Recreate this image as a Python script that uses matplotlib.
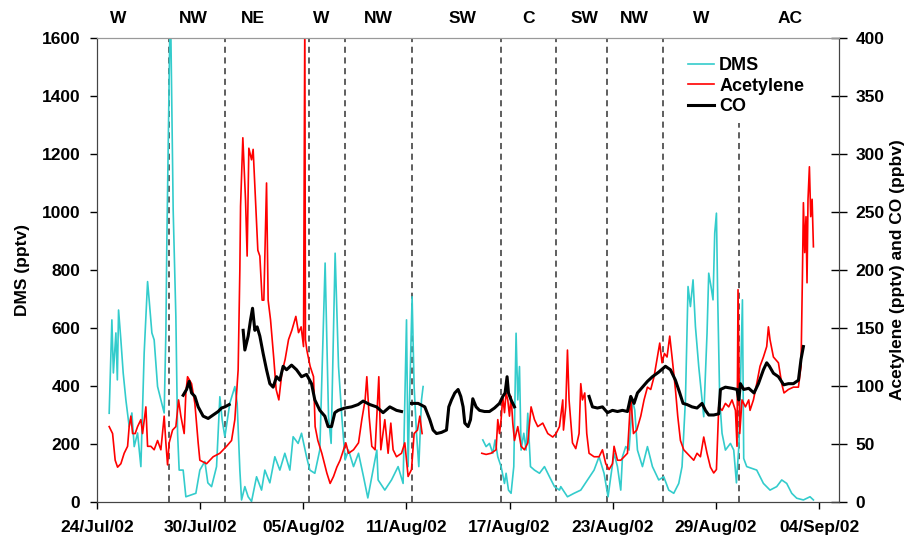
import numpy as np
import matplotlib
matplotlib.use("Agg")
import matplotlib.pyplot as plt
import matplotlib.transforms as mtransforms

plt.rcParams['font.family'] = ['Liberation Sans', 'DejaVu Sans']
plt.rcParams['font.weight'] = 'bold'

nan = np.nan

# --- data: days since 24/Jul/02 00:00 ---
dms_day = [0.715, 0.872, 0.959, 1.105, 1.19, 1.26, 1.395, 1.53, 1.686, 1.878, 2.035, 2.17, 2.366, 2.558,
           2.75, 2.849, 2.948, 3.04, 3.198, 3.331, 3.529, 3.721, 3.913, 4.012, 4.07, 4.145, 4.273, 4.33,
           4.436, 4.593, 4.692, 4.785, 5.017, 5.174, 5.465, 5.756, 5.988, 6.279, 6.453, 6.669, 6.959,
           7.151, 7.285, 7.442, 7.733, 8.023, 8.157, 8.314, 8.413, 8.605, 8.797, 8.994, 9.285, 9.576,
           9.767, 10.058, 10.349, 10.64, 10.93, 11.221, 11.413, 11.703, 11.901, 12.192, 12.384, 12.674,
           12.965, 13.273, 13.471, 13.622, 13.855, 14.052, 14.244, 14.436, 14.634, 14.924, 15.215,
           15.506, 15.756, 15.988, 16.279, 16.355, 16.744, 17.134, 17.517, 17.808, 18.006, 18.099,
           18.198, 18.331, 18.448, 18.587, 18.721, 18.878, 18.971, 20.5,
           22.442, 22.634, 22.831, 23.023, 23.157, 23.314, 23.506, 23.703, 23.797, 23.936, 24.087,
           24.244, 24.378, 24.477, 24.576, 24.669, 24.826, 24.96, 25.058, 25.215, 25.448, 25.738,
           26.029, 26.32, 26.61, 26.901, 26.977, 27.366, 27.75, 28.14, 28.529, 28.913, 29.203, 29.494,
           29.727, 29.884, 30.076, 30.273, 30.465, 30.564, 30.756, 30.948, 31.145, 31.279, 31.436,
           31.727, 32.017, 32.308, 32.674, 32.965, 33.256, 33.547, 33.837, 34.029, 34.227, 34.378,
           34.517, 34.669, 34.808, 35.0, 35.192, 35.291, 35.483, 35.581, 35.715, 35.831, 35.93, 36.029,
           36.105, 36.221, 36.355, 36.552, 36.843, 37.035, 37.192, 37.343, 37.541, 37.616, 37.791,
           38.372, 38.762, 39.145, 39.535, 39.826, 40.116, 40.407, 40.698, 41.087, 41.471, 41.669]
dms_val = [306, 628, 445, 583, 421, 662, 559, 445, 352, 260, 307, 191, 238, 122,
           514, 639, 760, 697, 583, 559, 398, 352, 307, 583, 904, 1226, 1750, 1480,
           1008, 639, 238, 110, 110, 18, 24, 30, 110, 140, 66, 53, 122,
           363, 283, 225, 341, 398, 341, 110, 7, 53, 18, 2, 87, 41,
           110, 66, 156, 110, 168, 110, 225, 202, 237, 156, 110, 99,
           180, 824, 294, 202, 858, 467, 294, 145, 179, 122, 168,
           87, 14, 87, 179, 76, 41, 76, 122, 64, 628, 122,
           386, 708, 398, 237, 122, 352, 398, nan,
           214, 191, 202, 168, 214, 156, 122, 64, 99, 41, 30,
           122, 582, 352, 467, 179, 237, 179, 306, 122, 110, 99,
           122, 87, 53, 41, 53, 18, 30, 41, 76, 110, 156, 99,
           18, 87, 168, 122, 41, 156, 191, 179, 352, 317, 179,
           122, 191, 122, 76, 87, 41, 30, 64, 122, 352, 743,
           674, 766, 605, 467, 352, 294, 582, 789, 743, 697, 927, 996,
           697, 352, 237, 179, 202, 179, 66, 202, 697, 150, 122,
           110, 64, 41, 53, 76, 64, 30, 13, 7, 18, 7]

acet_day = [0.715, 0.913, 1.064, 1.203, 1.395, 1.587, 1.785, 1.878, 1.977, 2.076, 2.227, 2.366, 2.558,
            2.657, 2.849, 2.948, 3.14, 3.331, 3.529, 3.721, 3.913, 4.012, 4.11, 4.203, 4.401, 4.593,
            4.75, 4.884, 5.076, 5.174, 5.273, 5.506, 5.698, 5.89, 5.988, 6.378, 6.762, 7.151, 7.541,
            7.831, 8.023, 8.215, 8.314, 8.355, 8.488, 8.645, 8.738, 8.837, 8.994, 9.087, 9.227, 9.36,
            9.477, 9.61, 9.709, 9.866, 9.959, 10.099, 10.291, 10.424, 10.581, 10.756, 10.948, 11.145,
            11.337, 11.57, 11.727, 11.878, 12.017, 12.093, 12.128, 12.209, 12.401, 12.599, 12.692,
            12.849, 13.081, 13.372, 13.564, 13.762, 13.953, 14.145, 14.343, 14.477, 14.634, 14.924,
            15.215, 15.407, 15.599, 15.698, 15.831, 15.988, 16.18, 16.395, 16.512, 16.744, 16.936,
            17.093, 17.227, 17.424, 17.715, 17.907, 18.099, 18.297, 18.448, 18.645, 18.779, 18.913, 20.5,
            22.384, 22.634, 22.924, 23.215, 23.314, 23.413, 23.506, 23.605, 23.703, 23.797, 23.895,
            23.994, 24.087, 24.186, 24.285, 24.378, 24.477, 24.576, 24.669, 24.866, 25.058, 25.25,
            25.448, 25.64, 25.93, 26.221, 26.512, 26.703, 26.901, 27.093, 27.134, 27.267, 27.366,
            27.459, 27.657, 27.849, 28.041, 28.14, 28.238, 28.372, 28.488, 28.622, 28.913, 29.203,
            29.401, 29.593, 29.785, 29.983, 30.076, 30.273, 30.465, 30.657, 30.855, 31.047, 31.203,
            31.395, 31.628, 31.82, 32.017, 32.209, 32.401, 32.576, 32.733, 32.866, 33.006, 33.157,
            33.314, 33.448, 33.645, 33.779, 33.936, 34.128, 34.32, 34.517, 34.709, 34.901, 35.099,
            35.291, 35.483, 35.68, 35.872, 36.029, 36.163, 36.355, 36.552, 36.744, 36.936, 37.134,
            37.227, 37.285, 37.384, 37.517, 37.715, 37.907, 37.983, 38.18, 38.372, 38.564, 38.762,
            38.953, 39.052, 39.145, 39.343, 39.634, 39.826, 39.959, 40.215, 40.506, 40.797, 40.948,
            41.029, 41.087, 41.163, 41.238, 41.297, 41.355, 41.436, 41.512, 41.593, 41.669]
acet_val = [65, 59, 36, 30, 33, 42, 48, 65, 74, 59, 59, 65, 71,
            59, 82, 48, 48, 45, 53, 45, 74, 51, 32, 51, 62, 65,
            88, 74, 59, 94, 108, 102, 85, 51, 36, 33, 39, 42, 48,
            53, 71, 114, 200, 255, 314, 260, 212, 305, 295, 304, 260, 217,
            212, 174, 174, 275, 174, 157, 123, 97, 88, 111, 123, 140,
            148, 160, 146, 151, 134, 420, 140, 131, 117, 108, 65,
            53, 42, 25, 16, 22, 30, 36, 45, 51, 42, 45,
            51, 71, 88, 108, 74, 48, 45, 108, 45, 71, 42,
            68, 45, 39, 42, 51, 22, 28, 59, 62, 74, 59, nan,
            42, 41, 42, 45, 71, 59, 71, 91, 77, 94, 88,
            74, 91, 68, 53, 59, 65, 56, 48, 45, 51, 82,
            71, 65, 68, 59, 56, 59, 65, 88, 62, 82, 131,
            88, 51, 46, 59, 102, 88, 94, 59, 42, 39, 39,
            45, 33, 28, 33, 48, 36, 36, 39, 42, 91, 59,
            62, 74, 88, 99, 97, 108, 123, 137, 120, 128, 125,
            143, 125, 97, 74, 53, 45, 42, 39, 36, 42, 39,
            56, 42, 30, 25, 28, 82, 79, 85, 82, 88, 79,
            48, 183, 59, 88, 82, 88, 79, 88, 102, 117, 125,
            134, 151, 140, 125, 120, 102, 94, 97, 99, 99, 117,
            194, 258, 215, 246, 189, 261, 289, 246, 261, 220]

co_day = [5.017, 5.215, 5.366, 5.506, 5.698, 5.89, 6.18, 6.471, 6.762, 7.052, 7.25, 7.442, 7.692, 8.1,
          8.506, 8.605, 8.797, 8.936, 9.052, 9.186, 9.32, 9.477, 9.669, 9.866, 10.058, 10.25, 10.448,
          10.64, 10.831, 11.029, 11.32, 11.61, 11.901, 12.192, 12.483, 12.674, 12.965, 13.256, 13.448,
          13.645, 13.837, 14.029, 14.419, 14.808, 15.192, 15.483, 15.872, 16.262, 16.645, 17.035,
          17.424, 17.715, 18.0,
          18.297, 18.68, 19.07, 19.36, 19.552, 19.75, 20.04, 20.331, 20.465, 20.622, 20.814, 21.006,
          21.163, 21.297, 21.395, 21.587, 21.727, 21.86, 22.052, 22.25, 22.541, 22.831, 23.122,
          23.413, 23.605, 23.738, 23.855, 23.936, 24.087, 24.285, 26.0,
          28.622, 28.82, 29.11, 29.401, 29.692, 29.983, 30.273, 30.564, 30.855, 31.047, 31.238,
          31.436, 31.727, 32.017, 32.308, 32.674, 33.064, 33.355, 33.645, 33.895, 34.087, 34.32,
          34.611, 34.901, 35.192, 35.39, 35.581, 35.872, 36.163, 36.262, 36.552, 36.936, 37.227,
          37.326, 37.424, 37.616, 37.907, 38.215, 38.471, 38.762, 38.953, 39.11, 39.343, 39.634,
          39.942, 40.215, 40.506, 40.797, 40.948, 41.087]
co_val = [92, 97, 104, 94, 91, 82, 74, 72, 75, 78, 81, 82, 84, nan,
          148, 131, 143, 157, 167, 148, 151, 143, 128, 114, 102, 99, 108,
          105, 117, 114, 118, 114, 108, 110, 102, 88, 79, 74, 65,
          65, 77, 79, 81, 82, 84, 87, 84, 82, 77, 82,
          79, 78, nan,
          85, 85, 82, 71, 62, 59, 60, 62, 82, 88, 94, 97,
          91, 82, 68, 65, 71, 89, 82, 79, 78, 78, 81,
          85, 91, 94, 108, 94, 88, 82, nan,
          91, 82, 81, 82, 77, 79, 78, 79, 78, 91, 85,
          94, 99, 104, 108, 112, 117, 114, 105, 94, 85, 84,
          82, 81, 85, 79, 75, 75, 76, 97, 99, 98, 97,
          88, 102, 97, 98, 94, 102, 114, 120, 117, 111, 108,
          101, 102, 102, 105, 123, 134]

sector_bounds = [4.20, 7.44, 12.34, 14.42, 18.35, 23.51, 26.69, 29.69, 32.95, 37.33]
sector_names = ['W', 'NW', 'NE', 'W', 'NW', 'SW', 'C', 'SW', 'NW', 'W', 'AC']
sector_label_day = [1.22, 5.58, 9.07, 13.02, 16.34, 21.28, 25.12, 28.37, 31.28, 35.17, 40.29]

tick_days = [0, 6, 12, 18, 24, 30, 36, 42]
tick_labels = ['24/Jul/02', '30/Jul/02', '05/Aug/02', '11/Aug/02',
               '17/Aug/02', '23/Aug/02', '29/Aug/02', '04/Sep/02']

FS = 12.5

fig = plt.figure(figsize=(9.14, 5.40), dpi=100)
ax = fig.add_axes([0.106, 0.0704, 0.812, 0.8592])
ax2 = ax.twinx()

l1, = ax.plot(dms_day, dms_val, color='#33CCCC', lw=1.2, label='DMS')
l2, = ax2.plot(acet_day, acet_val, color='#FF0000', lw=1.2, label='Acetylene')
l3, = ax2.plot(co_day, co_val, color='black', lw=2.2, label='CO')

# sector boundaries
for i, d in enumerate(sector_bounds):
    ymax = 0.817 if i == len(sector_bounds) - 1 else 1.0
    ax.axvline(d, ymin=0, ymax=ymax, color='#333333', lw=1.1, ls=(0, (4, 3)), zorder=1)

trans = mtransforms.blended_transform_factory(ax.transData, ax.transAxes)
for name, d in zip(sector_names, sector_label_day):
    ax.text(d, 1.042, name, transform=trans, ha='center', va='center',
            fontsize=FS, fontweight='bold')

ax.set_xlim(0, 43.16)
ax.set_ylim(0, 1600)
ax2.set_ylim(0, 400)
ax.set_xticks(tick_days)
ax.set_xticklabels(tick_labels, fontsize=FS, fontweight='bold')
ax.set_yticks(range(0, 1601, 200))
ax2.set_yticks(range(0, 401, 50))
ax.tick_params(axis='x', labelsize=FS, width=1, length=5, direction='out', pad=8)
ax.tick_params(axis='y', labelsize=FS, width=1, length=5, direction='out', pad=7)
ax2.tick_params(axis='y', labelsize=FS, width=1, length=12, direction='inout', pad=6)
for a in (ax, ax2):
    for lab in a.get_yticklabels():
        lab.set_fontweight('bold')

ax.set_ylabel('DMS (pptv)', fontsize=FS, fontweight='bold', labelpad=8)
ax2.set_ylabel('Acetylene (pptv) and CO (ppbv)', fontsize=FS, fontweight='bold', labelpad=4)

for a in (ax, ax2):
    a.spines['top'].set_color('#999999')
    a.spines['left'].set_color('#444444')
    a.spines['bottom'].set_color('#444444')
    a.spines['right'].set_color('#444444')

leg = ax2.legend(handles=[l1, l2, l3], loc='upper left', bbox_to_anchor=(0.774, 0.994),
                 frameon=False, handlelength=1.45, handletextpad=0.3, labelspacing=0.2,
                 prop={'size': 13, 'weight': 'bold'})

fig.savefig('out.png', dpi=100)
